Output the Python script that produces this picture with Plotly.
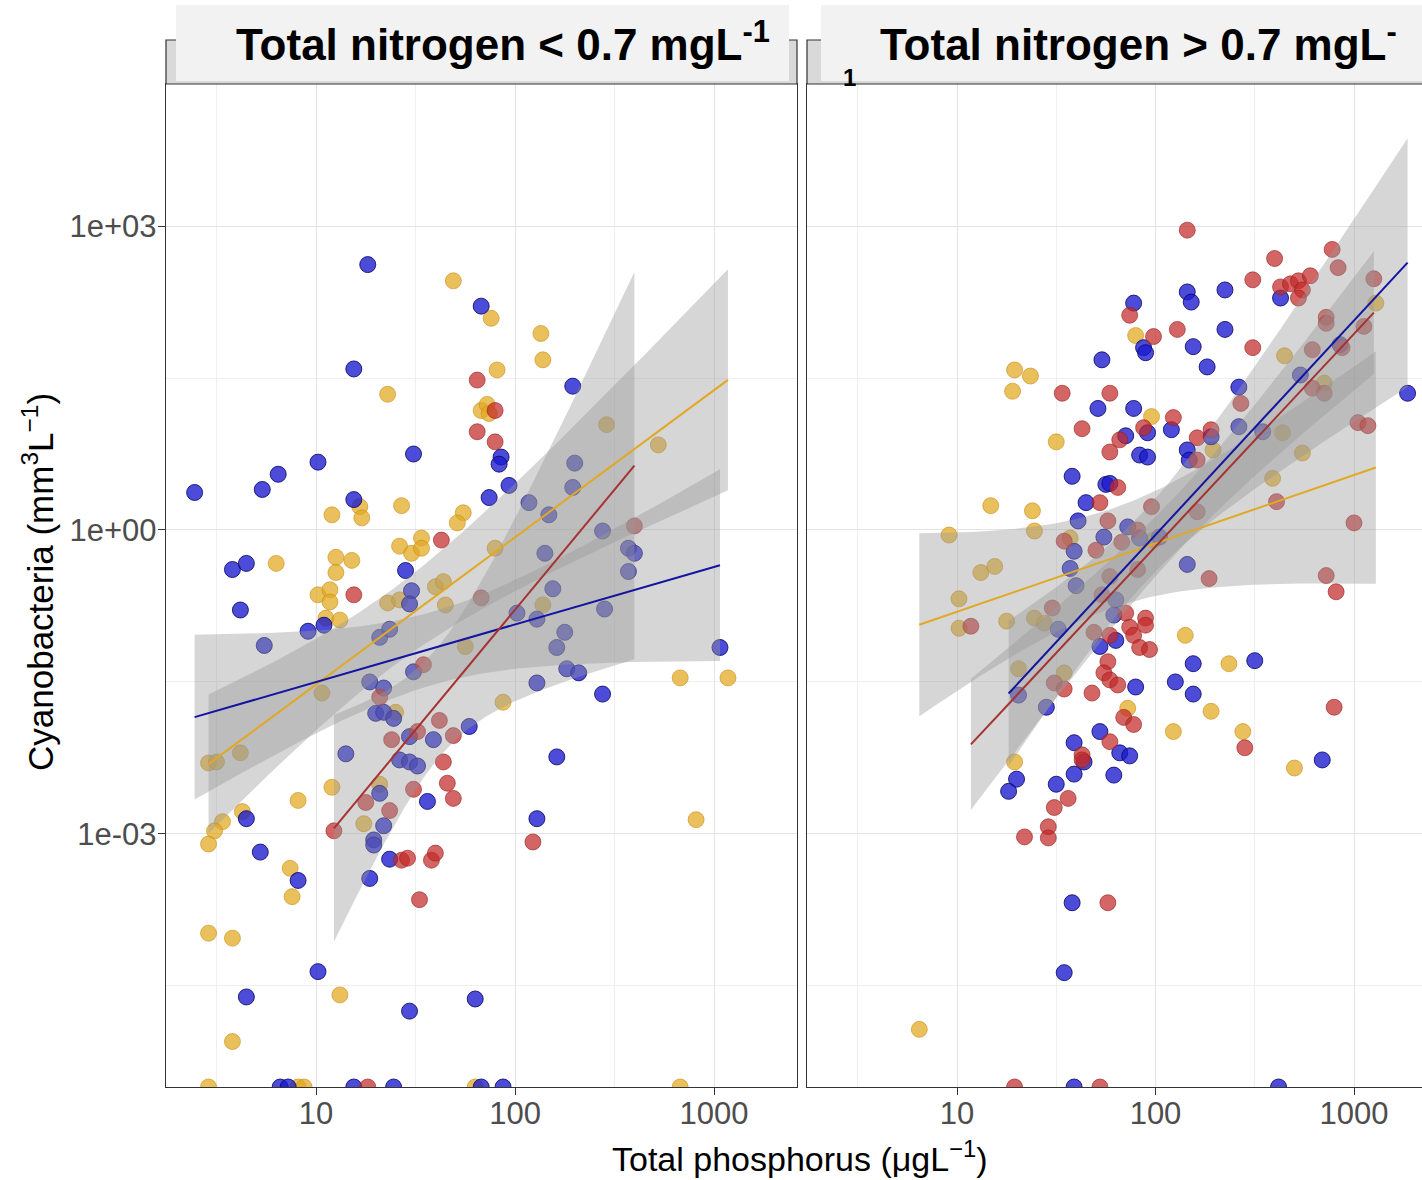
import numpy as np
import plotly.graph_objects as go

# All values are log10: total phosphorus (µg L-1) and cyanobacteria biovolume (mm3 L-1).
# Samples with zero cyanobacteria are listed by their TP only.

# ---- Total nitrogen < 0.7 mg/L ----
lo_blue_tp = [0.39, 0.58, 0.65, 0.62, 0.73, 0.81, 1.01, 1.19, 1.19, 1.26, 1.49, 1.83, 1.45, 0.96, 1.04,
              1.48, 1.47, 0.74, 1.32, 1.37, 1.87, 2.29, 1.93, 1.92, 1.97, 2.30, 2.29, 2.07, 2.17, 2.44,
              2.15, 2.57, 2.60, 2.57, 2.19, 2.45, 2.01, 2.11, 2.25, 2.21, 2.26, 2.32, 3.03, 2.11, 2.44,
              2.21, 2.11, 1.80, 1.27, 1.34, 1.30, 1.34, 1.39, 1.49, 1.47, 1.59, 1.77, 1.42, 1.47, 1.51,
              1.32, 1.34, 1.29, 1.29, 1.56, 1.37, 1.27, 0.65, 0.72, 0.91, 1.01, 0.65, 1.47, 1.15]
lo_blue_cy = [0.37, -0.39, -0.33, -0.79, 0.40, 0.55, 0.67, 0.30, 1.59, 2.62, 0.75, 2.21, -0.40, -1.00, -0.94,
              -0.60, -0.73, -1.14, -1.06, -0.98, 0.32, 1.42, 0.72, 0.65, 0.44, 0.66, 0.42, 0.27, 0.15, -0.01,
              -0.23, -0.18, -0.23, -0.41, -0.58, -0.78, -0.82, -0.88, -1.01, -1.16, -1.37, -1.41, -1.16, -1.51, -1.62,
              -2.24, -2.85, -4.63, -1.50, -1.56, -1.81, -1.80, -1.86, -1.40, -2.04, -2.07, -1.94, -2.27, -2.29, -2.33,
              -2.60, -2.92, -3.06, -3.11, -2.68, -3.25, -3.44, -2.85, -3.18, -3.46, -4.36, -4.61, -4.75, -2.21]
lo_blue_tp_zero = [0.82, 0.86, 1.19, 1.39, 1.83, 1.94]

lo_gold_tp = [1.69, 1.36, 1.08, 1.22, 1.23, 1.43, 1.74, 1.71, 0.80, 1.10, 1.18, 1.10, 1.42, 1.48, 1.53,
              1.53, 1.01, 1.07, 1.07, 1.05, 1.12, 1.60, 1.64, 1.65, 1.36, 1.42, 1.83, 1.86, 1.87, 1.88,
              2.13, 2.14, 1.91, 2.46, 2.72, 1.90, 2.14, 1.03, 0.46, 0.50, 0.62, 1.08, 0.91, 0.63, 0.53,
              0.49, 0.46, 0.87, 0.88, 1.32, 1.24, 1.40, 0.46, 0.58, 1.12, 0.58, 1.94, 2.83, 3.07, 2.91, 1.75]
lo_gold_cy = [2.46, 1.34, 0.15, 0.23, 0.12, 0.24, 0.17, 0.07, -0.33, -0.27, -0.30, -0.42, -0.16, -0.23, -0.08,
              -0.18, -0.64, -0.59, -0.71, -0.87, -0.89, -0.56, -0.51, -0.74, -0.72, -0.69, 1.18, 1.24, 1.15, 2.09,
              1.94, 1.68, 1.58, 1.04, 0.84, -0.18, -0.74, -1.61, -2.30, -2.29, -2.20, -2.54, -2.67, -2.78, -2.88,
              -2.97, -3.10, -3.34, -3.62, -2.51, -2.90, -1.80, -3.98, -4.03, -4.59, -5.05, -1.70, -1.46, -1.46, -2.86, -1.15]
lo_gold_tp_zero = [0.46, 0.91, 0.94, 1.80, 2.83]

lo_red_tp = [1.81, 1.81, 1.90, 1.90, 1.63, 1.19, 1.83, 2.60, 1.38, 1.51, 1.62, 1.69, 1.64, 1.66, 1.69,
             1.49, 1.25, 1.37, 1.09, 1.43, 1.46, 1.58, 1.60, 1.52, 1.54, 1.32, 2.09]
lo_red_cy = [1.48, 0.97, 1.18, 0.87, -0.10, -0.64, -0.67, 0.04, -2.07, -1.99, -1.88, -2.03, -2.29, -2.50, -2.65,
             -2.56, -2.69, -2.77, -2.97, -3.26, -3.24, -3.26, -3.19, -3.65, -1.33, -1.65, -3.08]
lo_red_tp_zero = [1.26]

# ---- Total nitrogen > 0.7 mg/L ----
hi_blue_tp = [1.73, 1.71, 1.58, 1.75, 1.65, 1.61, 1.74, 1.59, 1.57, 1.60, 1.51, 1.72, 1.86, 1.92, 2.02,
              2.16, 1.80, 1.79, 1.80, 1.45, 1.31, 1.90, 1.89, 2.16, 2.18, 2.35, 2.35, 1.94, 1.95, 2.19,
              2.26, 2.42, 3.27, 1.89, 1.96, 1.85, 2.08, 2.28, 1.92, 1.96, 2.16, 2.17, 2.42, 2.54, 2.93,
              2.73, 1.77, 1.59, 1.64, 1.59, 1.79, 1.30, 1.26, 1.50, 1.58, 1.54, 1.72, 2.19, 2.50, 2.10,
              2.19, 1.82, 1.87, 2.84, 2.63]
hi_blue_cy = [1.68, 1.20, 0.53, 0.45, 0.27, 0.09, -0.07, -0.21, -0.38, -0.55, -0.98, -1.15, 0.03, -0.08, -0.07,
              -0.34, -0.69, -0.84, -1.09, -1.75, -1.63, -1.55, 2.24, 2.35, 2.25, 2.37, 1.98, 1.80, 1.75, 1.81,
              1.61, 1.41, 1.35, 1.20, 0.96, 0.93, 0.99, 0.92, 0.74, 0.72, 0.79, 0.69, 1.02, 0.97, 1.83,
              1.53, 0.46, -2.10, -2.29, -2.41, -2.42, -2.46, -2.58, -2.51, -3.68, -4.37, -1.99, -1.32, -1.29, -1.50,
              -1.62, -2.20, -2.23, -2.27, 2.29]
hi_blue_tp_zero = [1.59, 2.62]

hi_gold_tp = [0.81, 0.96, 1.01, 1.01, 1.12, 1.19, 1.17, 1.29, 1.37, 1.28, 1.50, 1.38, 1.39, 1.25, 1.39,
              1.44, 1.57, 1.31, 1.54, 1.29, 1.90, 1.98, 2.65, 2.29, 2.64, 2.74, 2.59, 3.11, 2.15, 1.99,
              2.37, 1.86, 2.28, 2.09, 2.44, 2.70, 2.85]
hi_gold_cy = [-4.93, -0.05, -0.68, -0.97, -0.42, -0.36, 0.24, 1.58, 1.52, 1.37, 0.87, 0.19, -0.01, -0.90, -0.87,
              -0.92, -0.08, -1.37, -1.41, -2.29, 1.92, 1.12, 1.72, 0.79, 0.96, 0.76, 0.51, 2.24, -1.04, -0.10,
              -1.32, -1.76, -1.79, -1.99, -1.99, -2.35, 1.45]

hi_red_tp = [1.07, 1.53, 1.77, 1.63, 1.77, 1.72, 1.76, 1.54, 1.70, 1.48, 1.69, 2.16, 2.89, 2.92, 2.60,
             2.49, 2.63, 2.68, 2.72, 2.78, 2.74, 2.72, 3.10, 2.86, 2.86, 3.05, 2.11, 1.99, 1.87, 2.49,
             2.79, 2.94, 2.79, 2.85, 2.43, 2.09, 1.94, 2.21, 2.28, 1.82, 3.02, 3.07, 2.21, 1.81, 1.98,
             2.21, 2.61, 3.00, 1.91, 1.83, 2.27, 2.86, 2.91, 1.77, 1.91, 1.73, 1.85, 1.95, 1.95, 1.87,
             1.89, 1.77, 1.92, 1.97, 1.76, 1.74, 1.77, 1.81, 1.68, 1.49, 1.54, 1.84, 1.89, 2.45, 2.90,
             1.77, 1.63, 1.63, 1.56, 1.49, 1.46, 1.46, 1.34, 1.76]
hi_red_cy = [-0.95, 1.35, 1.35, 1.00, 0.77, 0.27, 0.09, -0.11, -0.20, -0.77, -1.01, 2.96, 2.77, 2.59, 2.68,
             2.47, 2.40, 2.43, 2.46, 2.51, 2.37, 2.29, 2.48, 2.10, 2.04, 2.01, 1.98, 1.91, 2.12, 1.80,
             1.78, 1.80, 1.40, 1.35, 1.25, 1.11, 1.01, 0.91, 0.99, 0.89, 1.06, 1.03, 0.69, 0.42, 0.23,
             0.18, 0.28, 0.07, 0.00, -0.12, -0.48, -0.45, -0.61, -0.46, -0.39, -0.64, -0.82, -0.87, -0.94, -0.96,
             -1.04, -1.04, -1.16, -1.18, -1.30, -1.41, -1.48, -1.53, -1.61, -1.51, -1.57, -1.85, -1.92, -2.15, -1.75,
             -2.09, -2.22, -2.27, -2.65, -2.74, -2.93, -3.04, -3.03, -3.68]
hi_red_tp_zero = [1.29, 1.72]

# ---- styling ----
W, H = 1422, 1180
FONT = "Liberation Sans, Arial, sans-serif"
POINT_FILL = {"blue": "rgba(25,25,205,0.78)", "gold": "rgba(226,168,30,0.72)", "red": "rgba(196,42,42,0.72)"}
POINT_EDGE = {"blue": "rgba(10,10,110,0.85)", "gold": "rgba(200,140,20,0.6)", "red": "rgba(150,30,30,0.6)"}
LINE_COL = {"blue": "#1414a0", "gold": "#e1a823", "red": "#a63232"}
BAND_FILL = "rgba(153,153,153,0.4)"

XRANGE_LO = [0.2462, 3.417]
XRANGE_HI = [0.2443, 3.3426]
YRANGE = [-5.499, 4.403]
Y_FLOOR = 10 ** YRANGE[0]   # zero biovolume sits on the panel floor


def t975(df):
    z = 1.959964
    return z + (z**3 + z) / (4 * df) + (5 * z**5 + 16 * z**3 + 3 * z) / (96 * df**2)


def lm_band(lx, ly, n=80):
    lx = np.asarray(lx, float)
    ly = np.asarray(ly, float)
    k = len(lx)
    xm = lx.mean()
    sxx = ((lx - xm) ** 2).sum()
    b = ((lx - xm) * (ly - ly.mean())).sum() / sxx
    a = ly.mean() - b * xm
    s = np.sqrt(((ly - (a + b * lx)) ** 2).sum() / (k - 2))
    gx = np.linspace(lx.min(), lx.max(), n)
    fit = a + b * gx
    se = s * np.sqrt(1 / k + (gx - xm) ** 2 / sxx)
    t = t975(k - 2)
    return gx, fit, fit - t * se, fit + t * se


panels = [
    ("x", "y", [("gold", lo_gold_tp, lo_gold_cy, lo_gold_tp_zero),
                ("blue", lo_blue_tp, lo_blue_cy, lo_blue_tp_zero),
                ("red", lo_red_tp, lo_red_cy, lo_red_tp_zero)]),
    ("x2", "y2", [("gold", hi_gold_tp, hi_gold_cy, []),
                  ("blue", hi_blue_tp, hi_blue_cy, hi_blue_tp_zero),
                  ("red", hi_red_tp, hi_red_cy, hi_red_tp_zero)]),
]

fig = go.Figure()

for xa, ya, groups in panels:
    # points
    for name, tp, cy, tp0 in groups:
        xs = list(10 ** np.asarray(tp)) + list(10 ** np.asarray(tp0, float))
        ys = list(10 ** np.asarray(cy)) + [Y_FLOOR] * len(tp0)
        fig.add_trace(go.Scatter(
            x=xs, y=ys, mode="markers", xaxis=xa, yaxis=ya, showlegend=False,
            marker=dict(size=16, color=POINT_FILL[name],
                        line=dict(width=1, color=POINT_EDGE[name])),
        ))
    # confidence bands and fitted lines
    fits = []
    for name, tp, cy, tp0 in groups:
        gx, fit, lo, hi = lm_band(tp, cy)
        fits.append((name, gx, fit))
        fig.add_trace(go.Scatter(
            x=list(10 ** gx) + list(10 ** gx[::-1]),
            y=list(10 ** hi) + list(10 ** lo[::-1]),
            mode="lines", fill="toself", fillcolor=BAND_FILL,
            line=dict(width=0), xaxis=xa, yaxis=ya, showlegend=False, hoverinfo="skip",
        ))
    for name, gx, fit in fits:
        fig.add_trace(go.Scatter(
            x=10 ** gx, y=10 ** fit, mode="lines", xaxis=xa, yaxis=ya, showlegend=False,
            line=dict(color=LINE_COL[name], width=2),
        ))

# ---- axes ----
def px_x(p):
    return p / W


def px_y(p):
    return 1 - p / H


PANEL_TOP, PANEL_BOT = 84, 1087
ydom = [px_y(PANEL_BOT), px_y(PANEL_TOP)]

grid_major = dict(showgrid=True, gridcolor="#e4e4e4", gridwidth=1.2)
minor_x = dict(tickvals=[10 ** 0.5, 10 ** 1.5, 10 ** 2.5, 10 ** 3.5], showgrid=True,
               gridcolor="#efefef", gridwidth=0.8, ticks="")
minor_y = dict(tickvals=[10 ** -4.5, 10 ** -1.5, 10 ** 1.5, 10 ** 4.5], showgrid=True,
               gridcolor="#efefef", gridwidth=0.8, ticks="")
tickfont = dict(family=FONT, size=31, color="#4d4d4d")

xcommon = dict(type="log", tickvals=[10, 100, 1000], ticktext=["10", "100", "1000"],
               ticks="outside", ticklen=7, tickwidth=1.2, tickcolor="#333333",
               ticklabelstandoff=-8,
               showline=True, linecolor="#333333", linewidth=1.4, zeroline=False,
               tickfont=tickfont, minor=minor_x, **grid_major)

fig.update_layout(
    width=W, height=H, margin=dict(l=0, r=0, t=0, b=0),
    paper_bgcolor="white", plot_bgcolor="white",
    xaxis=dict(domain=[px_x(166), px_x(797)], range=XRANGE_LO, anchor="y", mirror=True, **xcommon),
    xaxis2=dict(domain=[px_x(807), 1.0], range=XRANGE_HI, anchor="y2", mirror=True, **xcommon),
    yaxis=dict(type="log", domain=ydom, range=YRANGE, anchor="x",
               tickvals=[1e-3, 1, 1e3], ticktext=["1e-03", "1e+00", "1e+03"],
               ticks="outside", ticklen=7, tickwidth=1.2, tickcolor="#333333",
               ticklabelstandoff=-5,
               showline=True, linecolor="#333333", linewidth=1.4, mirror=True, zeroline=False,
               tickfont=tickfont, minor=minor_y, **grid_major),
    yaxis2=dict(type="log", domain=ydom, range=YRANGE, anchor="x2",
                tickvals=[1e-3, 1, 1e3], showticklabels=False, ticks="",
                showline=True, linecolor="#333333", linewidth=1.4, mirror=False, zeroline=False,
                minor=minor_y, **grid_major),
)

# ---- facet strips ----
shapes = []
for x0, x1 in [(166, 797), (807, 1440)]:
    shapes.append(dict(type="rect", xref="paper", yref="paper",
                       x0=px_x(x0), x1=px_x(x1), y0=px_y(84), y1=px_y(40),
                       fillcolor="#d9d9d9", line=dict(color="#333333", width=1.2), layer="above"))
for x0, x1 in [(176, 789), (821, 1440)]:
    shapes.append(dict(type="rect", xref="paper", yref="paper",
                       x0=px_x(x0), x1=px_x(x1), y0=px_y(81), y1=px_y(5),
                       fillcolor="#f2f2f2", line=dict(width=0), layer="above"))
fig.update_layout(shapes=shapes)

title_font = dict(family=FONT, size=44, color="black")
annotations = [
    dict(text="<b>Total nitrogen &lt; 0.7 mgL<sup>-1</sup></b>", x=px_x(234), y=px_y(42),
         xanchor="left", yanchor="middle", font=title_font),
    dict(text="<b>Total nitrogen &gt; 0.7 mgL<sup>-</sup></b>", x=px_x(878), y=px_y(42),
         xanchor="left", yanchor="middle", font=title_font),
    dict(text="<b>1</b>", x=px_x(849), y=px_y(77), xanchor="center", yanchor="middle",
         font=dict(family=FONT, size=24, color="black")),
    dict(text="Cyanobacteria (mm<sup>3</sup>L<sup>\u22121</sup>)", x=px_x(38), y=px_y(582),
         xanchor="center", yanchor="middle", textangle=-90,
         font=dict(family=FONT, size=35, color="black")),
    dict(text="Total phosphorus (\u03bcgL<sup>\u22121</sup>)", x=px_x(800), y=px_y(1156),
         xanchor="center", yanchor="middle",
         font=dict(family=FONT, size=34, color="black")),
]
for a in annotations:
    a.update(xref="paper", yref="paper", showarrow=False)
fig.update_layout(annotations=annotations)

fig.write_html("out.html")
